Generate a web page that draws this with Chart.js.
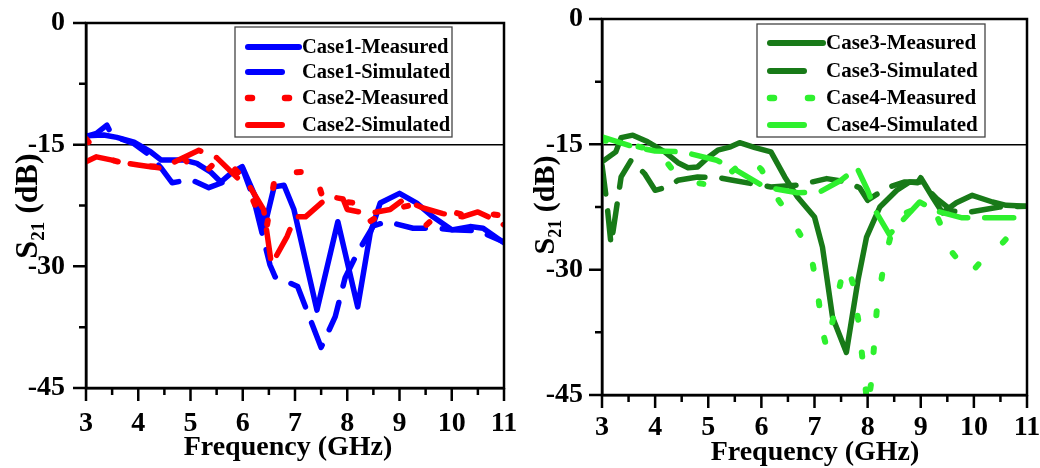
<!DOCTYPE html>
<html><head><meta charset="utf-8">
<script src="https://cdn.jsdelivr.net/npm/chart.js@4/dist/chart.umd.min.js"></script>
<style>
html,body{margin:0;padding:0;background:#fff;}
#wrap{position:relative;width:1040px;height:468px;overflow:hidden;}
canvas{position:absolute;top:0;}
</style></head><body>
<div id="wrap"><canvas id="c1" width="520" height="468" style="left:0"></canvas><canvas id="c2" width="520" height="468" style="left:520px"></canvas></div>
<script>
// ---------- tick labels ----------
const xTickValues = [3, 4, 5, 6, 7, 8, 9, 10, 11];
const xTickLabels = ['3', '4', '5', '6', '7', '8', '9', '10', '11'];
const yTickValues = [0, -15, -30, -45];
const yTickLabels = ['0', '-15', '-30', '-45'];
const xTitle = 'Frequency (GHz)';
const yTitleMain = 'S', yTitleSub = '21', yTitleRest = ' (dB)';

// ---------- left panel ----------
const case1MeasFreq = [3.0,3.34,3.59,3.92,4.24,4.44,4.88,5.12,5.39,5.58,5.78,5.99,6.16,6.35,6.41,6.6,6.79,6.98,7.42,7.82,8.2,8.44,8.63,9.0,9.33,9.64,10.0,10.35,10.6,11.0];
const case1MeasS21 = [-13.9,-13.8,-14.1,-14.7,-15.9,-16.9,-16.9,-17.3,-18.4,-19.6,-18.5,-17.7,-20.2,-23.0,-25.3,-20.2,-20.0,-23.0,-35.4,-24.5,-35.0,-25.9,-22.2,-21.0,-22.2,-23.9,-25.5,-25.1,-25.3,-27.1];

const case1SimFreq = [3.0,3.2,3.4,3.5,3.9,4.2,4.44,4.65,5.0,5.35,5.64,6.0,6.2,6.52,6.62,6.85,7.05,7.5,7.77,7.96,8.19,8.5,8.76,9.26,9.7,10.0,10.5,11.0];
const case1SimS21 = [-14.0,-13.6,-12.6,-13.9,-14.8,-16.2,-17.9,-19.7,-19.3,-20.3,-19.6,-18.0,-21.5,-29.8,-31.3,-31.9,-32.5,-40.0,-36.2,-31.4,-28.4,-25.0,-24.5,-25.3,-25.3,-25.5,-25.6,-27.0];

const case2MeasFreq = [3.0,3.3,3.75,4.1,4.5,4.85,5.18,5.6,6.0,6.45,6.63,7.0,7.38,7.55,7.9,8.3,8.4,8.8,9.2,9.45,9.83,10.2,10.6,10.9,11.0];
const case2MeasS21 = [-14.3,-16.6,-17.3,-17.6,-17.8,-16.5,-19.0,-16.4,-19.0,-25.5,-18.4,-18.4,-18.3,-22.0,-22.0,-22.3,-24.6,-23.0,-22.5,-25.3,-23.0,-23.6,-23.4,-23.7,-24.5];

const case2SimFreq = [3.0,3.2,3.5,3.8,4.0,4.2,4.44,4.8,5.16,5.5,5.9,6.1,6.4,6.55,6.85,7.0,7.2,7.5,7.67,7.92,8.0,8.4,8.82,9.07,9.45,9.83,10.2,10.5,10.7,11.0];
const case2SimS21 = [-17.1,-16.5,-16.9,-17.3,-17.5,-17.7,-17.9,-16.8,-15.7,-16.6,-19.1,-19.8,-23.0,-29.8,-26.3,-23.9,-23.9,-22.2,-21.4,-21.7,-23.0,-23.5,-23.0,-21.8,-22.8,-23.5,-23.9,-23.3,-23.9,-24.9];

// ---------- right panel ----------
const case3MeasFreq = [3.0,3.26,3.36,3.58,3.86,4.18,4.43,4.62,4.8,4.99,5.18,5.42,5.59,5.88,6.18,6.44,6.68,7.0,7.15,7.34,7.6,7.82,7.98,8.23,8.55,8.79,8.94,9.0,9.22,9.41,9.67,9.97,10.35,10.61,11.0];
const case3MeasS21 = [-17.1,-15.9,-14.2,-13.9,-14.7,-15.9,-17.2,-17.8,-17.7,-16.6,-15.7,-15.3,-14.8,-15.4,-15.9,-18.9,-21.3,-23.7,-27.3,-35.7,-39.9,-31.2,-26.1,-22.5,-20.5,-19.5,-19.6,-19.0,-21.3,-23.2,-22.0,-21.1,-21.9,-22.3,-22.4];

const case3SimFreq = [3.0,3.09,3.17,3.26,3.36,3.55,3.8,4.0,4.24,4.43,4.8,5.2,5.46,6.18,6.68,7.23,7.6,7.85,8.0,8.36,8.7,9.0,9.3,9.6,9.92,10.48,11.0];
const case3SimS21 = [-17.5,-21.9,-27.0,-23.2,-18.9,-16.9,-18.5,-20.5,-20.1,-19.3,-18.9,-19.0,-19.3,-20.1,-19.9,-19.1,-19.5,-20.2,-21.7,-20.2,-19.5,-19.5,-21.5,-23.0,-23.1,-22.5,-22.4];

const case4MeasFreq = [3.0,3.5,4.05,4.3,4.7,5.05,5.4,5.75,6.0,6.2,6.55,6.93,7.06,7.15,7.23,7.28,7.53,7.62,7.72,7.83,8.0,8.07,8.17,8.3,8.45,8.6,9.0,9.3,9.6,9.92,10.2,10.48,10.8,11.0];
const case4MeasS21 = [-14.5,-15.0,-15.8,-17.8,-19.5,-19.9,-18.5,-16.6,-18.0,-20.5,-23.8,-28.0,-32.7,-37.3,-39.4,-38.0,-30.3,-29.5,-31.6,-36.3,-46.5,-43.4,-35.0,-29.5,-25.5,-23.5,-22.5,-23.5,-28.0,-30.6,-28.5,-27.2,-25.0,-24.0];

const case4SimFreq = [3.0,3.6,4.0,4.52,5.16,5.5,6.06,6.68,7.1,7.5,7.8,8.0,8.15,8.41,8.98,9.3,9.78,10.48,11.0];
const case4SimS21 = [-14.1,-15.3,-15.8,-15.9,-16.9,-18.0,-20.1,-20.8,-20.7,-19.3,-17.8,-20.5,-23.0,-25.8,-21.9,-23.0,-23.8,-23.8,-23.8];

// ---------- helpers ----------
const FONT = '"Liberation Serif", "Times New Roman", serif';
const pts = (xs, ys) => xs.map((x, i) => ({ x: x, y: ys[i] }));
const DASH = [29, 17];
const DOT = [4, 33];

function ds(label, xs, ys, color, kind, order) {
  return {
    label: label, data: pts(xs, ys), borderColor: color, backgroundColor: color,
    borderWidth: kind === 'dot' ? 6 : 5.5, borderCapStyle: 'round', borderJoinStyle: 'round',
    borderDash: kind === 'solid' ? [] : (kind === 'dash' ? DASH : DOT),
    pointRadius: 0, tension: 0, fill: false, clip: 0, kind: kind, order: order
  };
}

const framePlugin = {
  id: 'frame',
  afterDraw(chart, args, o) {
    const ctx = chart.ctx, a = chart.chartArea;
    const xs = chart.scales.x, ys = chart.scales.y;
    ctx.save();
    ctx.strokeStyle = '#000';
    ctx.lineWidth = 2.5;
    ctx.strokeRect(a.left, a.top, a.right - a.left, a.bottom - a.top);
    // major + minor ticks (outward)
    ctx.lineWidth = 2.5;
    ctx.beginPath();
    for (let v = 3; v <= 11.001; v += 0.5) {
      const px = xs.getPixelForValue(v);
      const len = Number.isInteger(v) ? 13 : 7;
      ctx.moveTo(px, a.bottom); ctx.lineTo(px, a.bottom + len);
    }
    for (let v = 0; v >= -45; v -= 7.5) {
      const py = ys.getPixelForValue(v);
      const len = (v % 15 === 0) ? 13 : 7;
      ctx.moveTo(a.left, py); ctx.lineTo(a.left - len, py);
    }
    ctx.stroke();
    // titles
    ctx.fillStyle = '#000';
    ctx.font = 'bold ' + o.xFont + 'px ' + FONT;
    ctx.textAlign = 'center';
    ctx.textBaseline = 'alphabetic';
    ctx.fillText(xTitle, o.xCx, o.xBase);
    // y title rotated with subscript
    const fMain = 'bold ' + o.yFont + 'px ' + FONT;
    const fSub = 'bold ' + Math.round(o.yFont * 0.6) + 'px ' + FONT;
    ctx.font = fMain; const w1 = ctx.measureText(yTitleMain).width;
    const w3 = ctx.measureText(yTitleRest).width;
    ctx.font = fSub; const w2 = ctx.measureText(yTitleSub).width;
    const total = w1 + w2 + w3;
    ctx.translate(o.yBase, o.yCy + total / 2);
    ctx.rotate(-Math.PI / 2);
    ctx.textAlign = 'left';
    ctx.font = fMain; ctx.fillText(yTitleMain, 0, 0);
    ctx.font = fSub; ctx.fillText(yTitleSub, w1, o.yFont * 0.22);
    ctx.font = fMain; ctx.fillText(yTitleRest, w1 + w2, 0);
    ctx.restore();
  }
};

const legendPlugin = {
  id: 'boxLegend',
  afterDraw(chart, args, o) {
    const ctx = chart.ctx;
    ctx.save();
    ctx.fillStyle = '#fff';
    ctx.fillRect(o.x, o.y, o.w, o.h);
    ctx.strokeStyle = '#444'; ctx.lineWidth = 1.3;
    ctx.strokeRect(o.x, o.y, o.w, o.h);
    chart.data.datasets.forEach((d, i) => {
      const y = o.rows[i];
      ctx.strokeStyle = d.borderColor;
      ctx.lineWidth = d.borderWidth + 0.5;
      ctx.lineCap = 'round';
      ctx.setLineDash([]);
      ctx.beginPath();
      if (d.kind === 'solid') { ctx.moveTo(o.sx + 3, y); ctx.lineTo(o.sx + o.sw - 3, y); }
      else if (d.kind === 'dash') { ctx.moveTo(o.sx + 3, y); ctx.lineTo(o.sx + o.dw - 3, y); }
      else {
        ctx.moveTo(o.sx + 3, y); ctx.lineTo(o.sx + 7, y);
        ctx.moveTo(o.sx + o.d2, y); ctx.lineTo(o.sx + o.d2 + 4, y);
      }
      ctx.stroke();
      ctx.fillStyle = '#000';
      ctx.font = 'bold ' + o.font + 'px ' + FONT;
      ctx.textAlign = 'left'; ctx.textBaseline = 'middle';
      ctx.fillText(d.label, o.tx, y + 1);
    });
    ctx.restore();
  }
};

function zeroPad(s) { s.paddingLeft = 0; s.paddingRight = 0; s.paddingTop = 0; s.paddingBottom = 0; }

function makeChart(id, datasets, g) {
  const tickFont = { family: FONT, size: 28, weight: 'bold' };
  return new Chart(document.getElementById(id), {
    type: 'line',
    data: { datasets: datasets },
    plugins: [framePlugin, legendPlugin],
    options: {
      responsive: false, animation: false, devicePixelRatio: 1,
      layout: { padding: { top: g.top, right: g.right, left: 0, bottom: 0 } },
      plugins: {
        legend: { display: false }, tooltip: { enabled: false },
        frame: g.frame, boxLegend: g.legend
      },
      scales: {
        x: {
          type: 'linear', min: 3, max: 11,
          afterBuildTicks: s => { s.ticks = xTickValues.map(v => ({ value: v })); },
          afterFit: s => { s.height = g.xh; zeroPad(s); },
          ticks: { font: tickFont, color: '#000', padding: g.xPad, maxRotation: 0, autoSkip: false,
                   callback: v => xTickLabels[xTickValues.indexOf(v)] },
          grid: { drawOnChartArea: false, drawTicks: false },
          border: { display: true, color: '#000', width: 2.5 }
        },
        y: {
          type: 'linear', min: -45, max: 0,
          afterBuildTicks: s => { s.ticks = yTickValues.map(v => ({ value: v })); },
          afterFit: s => { s.width = g.left; zeroPad(s); },
          ticks: { font: tickFont, color: '#000', padding: g.yPad, autoSkip: false,
                   callback: v => yTickLabels[yTickValues.indexOf(v)] },
          grid: { drawOnChartArea: true, drawTicks: false,
                  lineWidth: 1.5, color: c => (c.tick && c.tick.value === -15) ? '#000' : 'rgba(0,0,0,0)' },
          border: { display: true, color: '#000', width: 2.5 }
        }
      }
    }
  });
}

const BLUE = '#0000ff', RED = '#ff0000', DKGREEN = '#187a18', LTGREEN = '#2ef02e';

makeChart('c1', [
  ds('Case1-Measured', case1MeasFreq, case1MeasS21, BLUE, 'solid', 3),
  ds('Case1-Simulated', case1SimFreq, case1SimS21, BLUE, 'dash', 2),
  ds('Case2-Measured', case2MeasFreq, case2MeasS21, RED, 'dot', 1),
  ds('Case2-Simulated', case2SimFreq, case2SimS21, RED, 'dash', 0)
], {
  top: 23, right: 16, left: 86, xh: 80, xPad: 18.5, yPad: 21,
  frame: { xFont: 28, xCx: 288, xBase: 455, yFont: 32, yBase: 37, yCy: 206 },
  legend: { x: 235, y: 27, w: 217, h: 110, rows: [47, 72, 98, 125], sx: 245, sw: 57, dw: 40, d2: 40, tx: 302, font: 20.5 }
});

makeChart('c2', [
  ds('Case3-Measured', case3MeasFreq, case3MeasS21, DKGREEN, 'solid', 3),
  ds('Case3-Simulated', case3SimFreq, case3SimS21, DKGREEN, 'dash', 2),
  ds('Case4-Measured', case4MeasFreq, case4MeasS21, LTGREEN, 'dot', 1),
  ds('Case4-Simulated', case4SimFreq, case4SimS21, LTGREEN, 'dash', 0)
], {
  top: 19, right: 13, left: 82, xh: 73, xPad: 15.5, yPad: 19,
  frame: { xFont: 28, xCx: 295, xBase: 460, yFont: 30, yBase: 34, yCy: 205 },
  legend: { x: 237, y: 24, w: 228, h: 113, rows: [43, 71, 98, 125], sx: 247, sw: 59, dw: 40, d2: 41, tx: 306, font: 21 }
});
</script>
</body></html>
